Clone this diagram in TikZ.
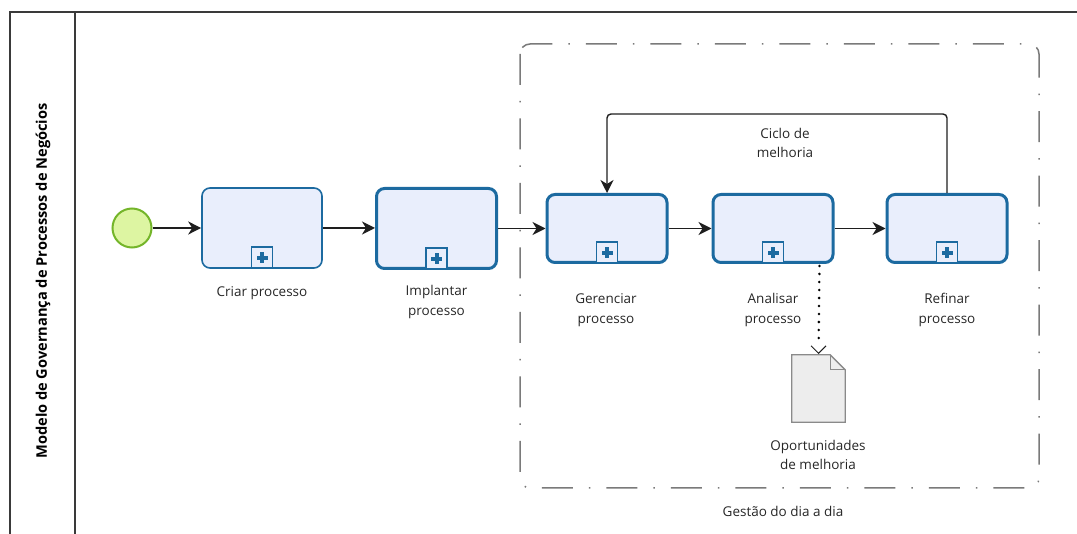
\documentclass[tikz,border=0pt]{standalone}
\usepackage{fontspec}
\setmainfont{Open Sans}
\usetikzlibrary{arrows.meta,calc}

\definecolor{taskblue}{HTML}{1C6AA0}
\definecolor{taskfill}{HTML}{E9EEFC}
\definecolor{startfill}{HTML}{DDF5A2}
\definecolor{startline}{HTML}{74B52A}
\definecolor{docfill}{HTML}{EDEDED}
\definecolor{docline}{HTML}{8A8A8A}
\definecolor{groupline}{HTML}{7A7A7A}
\definecolor{poolline}{HTML}{3A3A3A}
\definecolor{flowline}{HTML}{1E1E1E}

\tikzset{
  task/.style={draw=taskblue, fill=taskfill, rounded corners=8pt,
    minimum width=120pt, minimum height=80pt, inner sep=0pt, line width=3pt},
  taskthin/.style={task, line width=1.6pt},
  taskshort/.style={task, minimum height=68pt},
  marker/.style={draw=taskblue, fill=taskfill, line width=1.5pt,
    minimum width=21pt, minimum height=21pt, inner sep=0pt, anchor=south,
    path picture={
      \fill[taskblue] ([xshift=-5.5pt,yshift=-2pt]path picture bounding box.center)
        rectangle ([xshift=5.5pt,yshift=2pt]path picture bounding box.center);
      \fill[taskblue] ([xshift=-2pt,yshift=-5.5pt]path picture bounding box.center)
        rectangle ([xshift=2pt,yshift=5.5pt]path picture bounding box.center);
    }},
  startev/.style={circle, draw=startline, fill=startfill, line width=2pt,
    minimum size=39pt, inner sep=0pt},
  flow/.style={draw=flowline, line width=1.4pt,
    -{Stealth[length=13pt,width=13pt,inset=4pt]}},
  lbl/.style={font=\fontsize{13.5}{19.5}\selectfont, text=black!85, align=center, inner sep=0pt},
  assoc/.style={draw=black, line width=2.8pt, line cap=round, dash pattern=on 0pt off 8pt},
}

\begin{document}
\begin{tikzpicture}[x=1pt,y=-1pt]
\useasboundingbox (0,0) rectangle (1077,534);

% pool and lane header
\draw[poolline, line width=1.5pt] (1077,12) -- (10,12) -- (10,534);
\draw[poolline, line width=1.5pt] (75,12) -- (75,534);
\node[rotate=90, font=\fontsize{14.6}{17}\selectfont\bfseries, inner sep=0pt] (poolname) at (43,281)
  {Modelo de Governança de Processos de Negócios};

% group
\draw[groupline, line width=1.5pt, rounded corners=10pt,
      dash pattern=on 31pt off 16pt on 1.5pt off 16pt]
  (520,44) rectangle (1039,488);
\node[lbl] (grouplabel) at (783,511) {Gestão do dia a dia};

% start event
\node[startev] (start) at (132,228) {};

% sub-processes
\node[taskthin] (criar) at (262,228) {};
\node[task] (impl) at (436.5,228.5) {};
\node[task, taskshort] (ger) at (607,228.5) {};
\node[task, taskshort] (ana) at (773,228.5) {};
\node[task, taskshort] (ref) at (947,228.5) {};

\foreach \t in {criar,impl,ger,ana,ref}
  \node[marker] (m\t) at (\t.south) {};

% labels of the sub-processes
\node[lbl] (lcriar) at (262,293) {Criar processo};
\node[lbl] (limpl) at (436.5,302) {Implantar\\processo};
\node[lbl] (lger) at (606,310) {Gerenciar\\processo};
\node[lbl] (lana) at (773,310) {Analisar\\processo};
\node[lbl] (lref) at (947,310) {Refinar\\processo};

% sequence flows
\draw[flow] (start) -- (criar);
\draw[flow] (criar) -- (criar -| impl.west);
\draw[flow] (impl) -- (ger);
\draw[flow] (ger) -- (ana);
\draw[flow] (ana) -- (ref);

% improvement loop
\coordinate (looptop) at (0,114);
\draw[flow, rounded corners=4pt]
  (ref.north) -- (ref.north |- looptop) -- (ger.north |- looptop) -- (ger.north);
\node[lbl] (lloop) at (785,143) {Ciclo de\\melhoria};

% data object
\node[minimum width=53pt, minimum height=67pt, inner sep=0pt] (doc) at (818.5,388.5) {};
\draw[docline, fill=docfill, line width=1.3pt]
  (doc.north west) -- ($(doc.north east)+(-15,0)$) -- ($(doc.north east)+(0,15)$)
  -- (doc.south east) -- (doc.south west) -- cycle;
\draw[docline, line width=1pt]
  ($(doc.north east)+(-15,0)$) -- ($(doc.north east)+(-15,15)$) -- ($(doc.north east)+(0,15)$);
\node[lbl] (ldoc) at (818,455) {Oportunidades\\de melhoria};

% association to the data object (dotted line with an open head)
\coordinate (assocstart) at ($(ana.south east)+(-15,0)$);
\draw[assoc, shorten <=2pt, shorten >=16pt] (assocstart) -- (doc.north);
\draw[flowline, line width=1pt]
  ($(doc.north)+(-7.5,-9)$) -- ($(doc.north)+(0,-1.5)$) -- ($(doc.north)+(7.5,-9)$);
\end{tikzpicture}
\end{document}
